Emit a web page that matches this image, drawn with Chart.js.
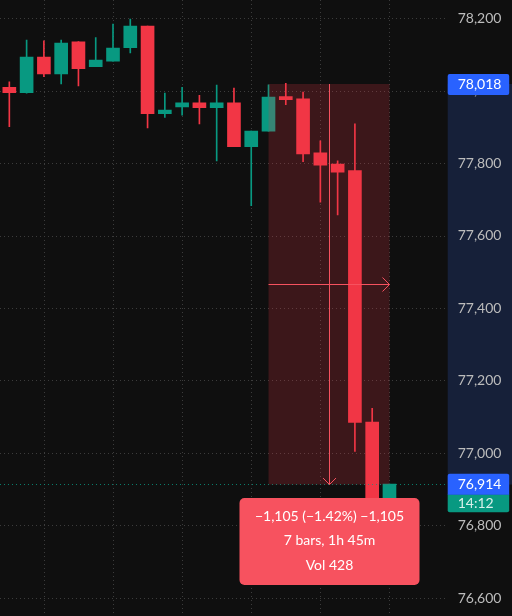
<!DOCTYPE html>
<html lang="en">
<head>
  <meta charset="UTF-8" />
  <title>15m candles</title>
  <script src="https://cdn.jsdelivr.net/npm/chart.js"></script>
  <style>
    html, body { margin: 0; padding: 0; background: #0f0f0f; }
    #wrap { position: relative; width: 512px; height: 616px; }
  </style>
</head>
<body>
  <div id="wrap"><canvas id="chart"></canvas></div>

  <script>
    // 15 minute candles, oldest first
    const opens  = [78009, 77994, 78092, 78046, 78134, 78066, 78081, 78118, 78178, 77936, 77955, 77966, 77953, 77966, 77845, 77888, 77983, 77977, 77828, 77797, 77779, 77085, 76865];
    const highs  = [78024, 78139, 78137, 78139, 78135, 78146, 78183, 78197, 78178, 77993, 78009, 77987, 78015, 78007, 77888, 78016, 78020, 77996, 77861, 77806, 77908, 77123, 76914];
    const lows   = [77900, 77993, 78038, 78018, 78013, 78066, 78081, 78104, 77897, 77926, 77932, 77908, 77806, 77845, 77682, 77888, 77961, 77804, 77692, 77657, 77004, 76840, 76850];
    const closes = [77994, 78092, 78046, 78131, 78060, 78084, 78117, 78178, 77936, 77946, 77966, 77953, 77966, 77845, 77888, 77982, 77975, 77825, 77794, 77775, 77084, 76862, 76914];

    const priceTicks = [76600, 76800, 77000, 77200, 77400, 77600, 77800, 78000, 78200];
    const hourLines = [2, 6, 10, 14, 18, 22];

    // measure tool
    const measureFrom = 15, measureTo = 22;
    const measureHigh = 78018, measureLow = 76913;
    const statLines = ['\u22121,105 (\u22121.42%) \u22121,105', '7 bars, 1h 45m', 'Vol 428'];
    const lastPrice = 76914;
    const countdown = '14:12';

    const UP = '#089981', DOWN = '#f23645';
    const FONT = 'Lato, "Liberation Sans", sans-serif';
    const GRID = '#3c3c3c';

    const idx = opens.map((_, i) => i);
    const colors = idx.map(i => closes[i] >= opens[i] ? UP : DOWN);
    const fmt = v => v.toLocaleString('en-US');

    function roundRect(ctx, x, y, w, h, r) {
      ctx.beginPath();
      ctx.roundRect(x, y, w, h, r);
      ctx.fill();
    }

    function dotted(ctx, x0, y0, x1, y1, color) {
      ctx.strokeStyle = color;
      ctx.lineWidth = 1;
      ctx.setLineDash([1, 3]);
      ctx.beginPath();
      ctx.moveTo(x0, y0);
      ctx.lineTo(x1, y1);
      ctx.stroke();
      ctx.setLineDash([]);
    }

    const overlay = {
      id: 'overlay',
      beforeDraw(chart) {
        const { ctx, chartArea: a, scales: { x, y } } = chart;
        ctx.save();
        ctx.fillStyle = '#0f0f0f';
        ctx.fillRect(0, 0, chart.width, chart.height);
        const t = y.getPixelForValue(measureHigh), b = y.getPixelForValue(measureLow);
        ctx.fillStyle = '#162039';
        ctx.fillRect(a.right, t, chart.width - a.right, b - t);
        // dotted grid
        x.ticks.forEach(tk => {
          const px = Math.round(x.getPixelForValue(tk.value)) + 0.5;
          dotted(ctx, px, a.top, px, a.bottom, GRID);
        });
        y.ticks.forEach(tk => {
          const py = Math.round(y.getPixelForValue(tk.value)) + 0.5;
          dotted(ctx, a.left, py, a.right, py, GRID);
        });
        ctx.restore();
      },
      afterDatasetsDraw(chart) {
        const { ctx, chartArea: a, scales: { x, y } } = chart;
        const x0 = x.getPixelForValue(measureFrom), x1 = x.getPixelForValue(measureTo);
        const y0 = y.getPixelForValue(measureHigh), y1 = y.getPixelForValue(measureLow);
        const mx = Math.round((x0 + x1) / 2) + 0.5, my = Math.round((y0 + y1) / 2) + 0.5;
        ctx.save();

        // last price line
        const lp = Math.round(y.getPixelForValue(lastPrice)) + 0.5;
        dotted(ctx, a.left, lp, a.right, lp, 'rgba(8,153,129,0.8)');

        ctx.fillStyle = 'rgba(242,54,69,0.2)';
        ctx.fillRect(x0, y0, x1 - x0, y1 - y0);

        ctx.strokeStyle = '#f7525f';
        ctx.lineWidth = 1;
        ctx.beginPath();
        ctx.moveTo(mx, y0); ctx.lineTo(mx, y1);
        ctx.moveTo(mx - 6.5, y1 - 6.5); ctx.lineTo(mx, y1); ctx.lineTo(mx + 6.5, y1 - 6.5);
        ctx.moveTo(x0, my); ctx.lineTo(x1, my);
        ctx.moveTo(x1 - 7, my - 7); ctx.lineTo(x1, my); ctx.lineTo(x1 - 7, my + 7);
        ctx.stroke();

        // stats label
        const w = 180, h = 87, top = y1 + 13.5;
        ctx.fillStyle = '#f7525f';
        roundRect(ctx, mx - w / 2, top, w, h, 5);
        ctx.fillStyle = '#ffffff';
        ctx.font = '14px ' + FONT;
        ctx.textAlign = 'center';
        ctx.textBaseline = 'middle';
        statLines.forEach((s, i) => ctx.fillText(s, mx, top + 18 + i * 24.5));
        ctx.restore();
      },
      afterDraw(chart) {
        const { ctx, chartArea: a, scales: { y } } = chart;
        const bx = a.right, bw = 61.5, tx = a.right + 10;
        ctx.save();
        ctx.font = '14px ' + FONT;
        ctx.textAlign = 'left';
        ctx.textBaseline = 'middle';

        let cy = y.getPixelForValue(measureHigh);
        ctx.fillStyle = '#2962ff';
        roundRect(ctx, bx, cy - 10, bw, 21, 2);
        ctx.fillStyle = '#ffffff';
        ctx.fillText(fmt(measureHigh), tx, cy + 0.5);

        cy = y.getPixelForValue(lastPrice);
        ctx.fillStyle = UP;
        roundRect(ctx, bx, cy + 10, bw, 18, [0, 0, 2, 2]);
        ctx.fillStyle = '#2962ff';
        roundRect(ctx, bx, cy - 10.5, bw, 21, [2, 2, 0, 0]);
        ctx.fillStyle = '#ffffff';
        ctx.fillText(fmt(lastPrice), tx, cy + 0.5);
        ctx.fillStyle = '#d8f0eb';
        ctx.fillText(countdown, tx, cy + 19.5);
        ctx.restore();
      }
    };

    new Chart(document.getElementById('chart'), {
      type: 'bar',
      data: {
        datasets: [
          {
            label: 'body',
            data: idx.map(i => ({ x: i, y: [opens[i], closes[i]] })),
            backgroundColor: colors,
            barThickness: 13,
            minBarLength: 1,
            grouped: false,
            borderWidth: 0
          },
          {
            label: 'wick',
            data: idx.map(i => ({ x: i, y: [lows[i], highs[i]] })),
            backgroundColor: colors,
            barThickness: 1,
            grouped: false,
            borderWidth: 0
          }
        ]
      },
      options: {
        responsive: true,
        maintainAspectRatio: false,
        animation: false,
        layout: { padding: 0 },
        plugins: { legend: { display: false }, tooltip: { enabled: false } },
        scales: {
          x: {
            type: 'linear',
            offset: false,
            min: -0.54,
            max: 25.37,
            ticks: { display: false },
            grid: { display: false, drawTicks: false },
            border: { display: false },
            afterBuildTicks: s => { s.ticks = hourLines.map(v => ({ value: v })); }
          },
          y: {
            position: 'right',
            min: 76550.3,
            max: 78249.7,
            grid: { display: false, drawTicks: false },
            border: { display: false },
            ticks: {
              color: '#bcbcbc',
              padding: 10,
              font: { family: FONT, size: 14 },
              callback: v => fmt(v)
            },
            afterBuildTicks: s => { s.ticks = priceTicks.map(v => ({ value: v })); },
            afterFit: s => { s.width = 64.3; s.paddingTop = 0; s.paddingBottom = 0; }
          }
        }
      },
      plugins: [overlay]
    });
  </script>
</body>
</html>
